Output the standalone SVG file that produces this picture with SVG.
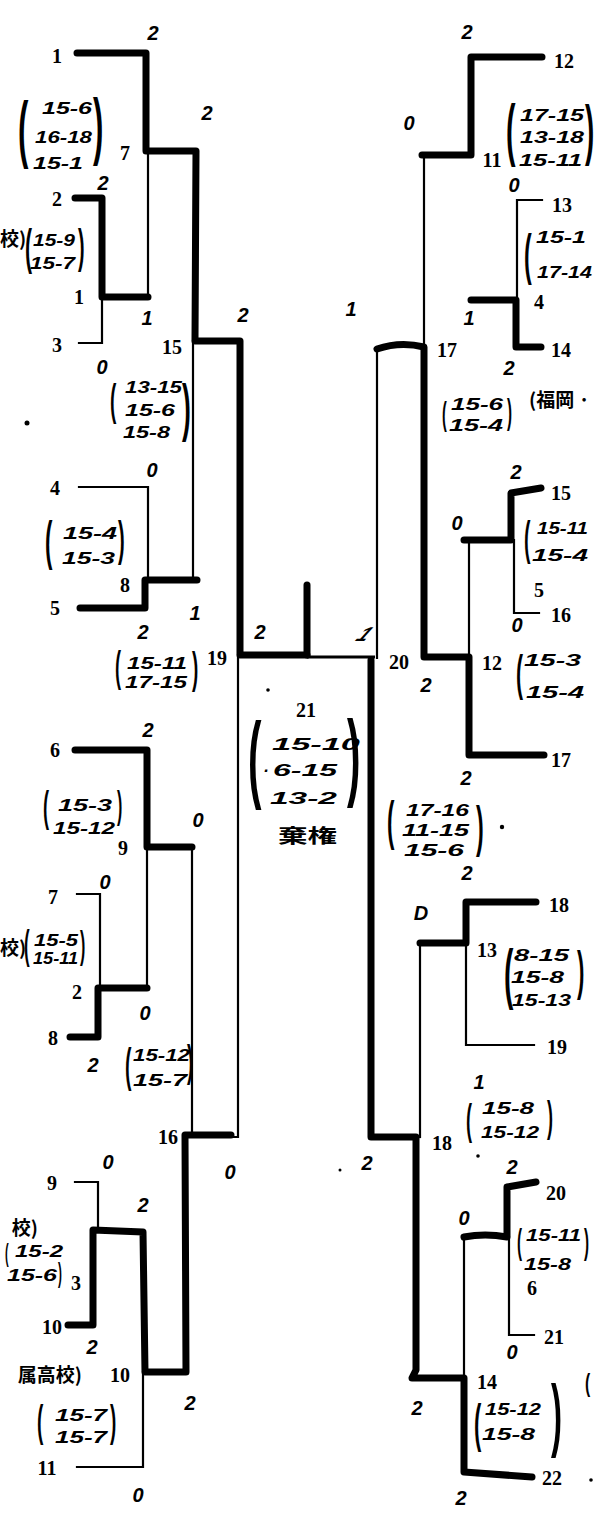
<svg xmlns="http://www.w3.org/2000/svg" width="594" height="1524" viewBox="0 0 594 1524">
<style>
.lbl{font-family:"Liberation Serif","Noto Sans CJK JP",serif;font-weight:700;font-size:20px;text-anchor:middle;fill:#000}
.jp{font-family:"Noto Sans CJK JP","Liberation Sans",sans-serif;font-weight:700;font-size:19px;fill:#000}
.hw{font-family:"Liberation Sans",sans-serif;font-style:italic;font-weight:700;font-size:17px;fill:#000}
.sc{font-family:"Liberation Sans",sans-serif;font-style:italic;font-weight:700;font-size:20px;text-anchor:middle;fill:#000}
.par{font-family:"Liberation Sans",sans-serif;font-weight:700;fill:#000}
.thick{fill:none;stroke:#000;stroke-width:7;stroke-linecap:round;stroke-linejoin:round}
.thin{fill:none;stroke:#000;stroke-width:2.2;stroke-linecap:square;stroke-linejoin:miter}
.mid{fill:none;stroke:#000;stroke-width:3}
</style>
<rect width="594" height="1524" fill="#fff"/>

<g id="connectors">
  <!-- left thick -->
  <path class="thick" d="M77,53 H146 V151 H196 L195,341 H240 V655 H307"/>
  <path class="thick" d="M307,655 V585"/>
  <path class="thick" d="M75,198 H102 V297 H148"/>
  <path class="thick" d="M80,608 H145 V580 H197"/>
  <path class="thick" d="M75,750 H147 V847 H192"/>
  <path class="thick" d="M70,1037 H98 V988 H147"/>
  <path class="thick" d="M68,1325 H93 V1230 L143,1232 L145,1372 H186 L185,1135 H231"/>
  <!-- left thin -->
  <path class="thin" d="M148,152 V297"/>
  <path class="thin" d="M79,343 H102 V297"/>
  <path class="thin" d="M79,487 H148 V580"/>
  <path class="thin" d="M193,580 V341"/>
  <path class="thin" d="M77,894 H100 V988"/>
  <path class="thin" d="M147,988 V847"/>
  <path class="thin" d="M192,847 V1135"/>
  <path class="thin" d="M75,1182 H98 V1230"/>
  <path class="thin" d="M77,1467 H143 V1372"/>
  <path class="thin" d="M231,1137 H238 V655"/>
  <!-- final -->
  <path class="mid" d="M307,657 H375"/>
  <!-- right thick -->
  <path class="thick" d="M542,57 H471 V155 H422"/>
  <path class="thick" d="M541,347 H516 V300 H471"/>
  <path class="thick" d="M541,488 L511,493 V540 H464"/>
  <path class="thick" d="M544,755 H469 V657 H424 V347 Q400,341 377,349"/>
  <path class="thick" d="M536,902 H466 V943 H420"/>
  <path class="thick" d="M536,1182 L507,1187 V1237 Q485,1233 464,1237"/>
  <path class="thick" d="M532,1477 L464,1472 V1378 H412 L416,1370 V1137 H371 V660"/>
  <!-- right thin -->
  <path class="thin" d="M424,155 V347"/>
  <path class="thin" d="M542,200 H517 V300"/>
  <path class="thin" d="M539,613 H514 V540"/>
  <path class="thin" d="M469,540 V657"/>
  <path class="thin" d="M377,347 V658"/>
  <path class="thin" d="M534,1045 H466 V943"/>
  <path class="thin" d="M420,943 V1137"/>
  <path class="thin" d="M534,1335 H509 V1237"/>
  <path class="thin" d="M464,1237 V1378"/>
</g>

<!-- left teams -->
<g id="team-1"><text class="lbl" x="57" y="63">1</text></g>
<g id="team-2"><text class="lbl" x="57" y="206">2</text></g>
<g id="team-3"><text class="lbl" x="57" y="352">3</text></g>
<g id="team-4"><text class="lbl" x="55" y="495">4</text></g>
<g id="team-5"><text class="lbl" x="55" y="615">5</text></g>
<g id="team-6"><text class="lbl" x="55" y="757">6</text></g>
<g id="team-7"><text class="lbl" x="53" y="904">7</text></g>
<g id="team-8"><text class="lbl" x="53" y="1045">8</text></g>
<g id="team-9"><text class="lbl" x="52" y="1190">9</text></g>
<g id="team-10"><text class="lbl" x="52" y="1334">10</text></g>
<g id="team-11"><text class="lbl" x="47" y="1475">11</text></g>

<!-- right teams -->
<g id="team-12"><text class="lbl" x="564" y="68">12</text></g>
<g id="team-13"><text class="lbl" x="562" y="212">13</text></g>
<g id="team-14"><text class="lbl" x="561" y="357">14</text></g>
<g id="team-15"><text class="lbl" x="561" y="500">15</text></g>
<g id="team-16"><text class="lbl" x="561" y="622">16</text></g>
<g id="team-17"><text class="lbl" x="561" y="767">17</text></g>
<g id="team-18"><text class="lbl" x="559" y="912">18</text></g>
<g id="team-19"><text class="lbl" x="557" y="1054">19</text></g>
<g id="team-20"><text class="lbl" x="556" y="1200">20</text></g>
<g id="team-21"><text class="lbl" x="554" y="1344">21</text></g>
<g id="team-22"><text class="lbl" x="552" y="1485">22</text></g>

<!-- left matches -->
<g id="match-7">
  <text class="lbl" x="125" y="160">7</text>
  <text class="sc" x="153" y="40">2</text>
  <text class="par" font-size="74" transform="translate(18,154) scale(0.42,1)">(</text>
  <text class="hw" x="42" y="114" textLength="50" lengthAdjust="spacingAndGlyphs">15-6</text>
  <text class="hw" x="35" y="143" textLength="57" lengthAdjust="spacingAndGlyphs">16-18</text>
  <text class="hw" x="33" y="169" textLength="50" lengthAdjust="spacingAndGlyphs">15-1</text>
  <text class="par" font-size="74" transform="translate(93,151) scale(0.42,1)">)</text>
</g>
<g id="match-1">
  <text class="lbl" x="79" y="304">1</text>
  <text class="sc" x="103" y="190">2</text>
  <text class="sc" x="147" y="325">1</text>
  <text class="sc" x="102" y="374">0</text>
  <text class="jp" x="0" y="246" font-size="15">校)</text>
  <text class="par" font-size="50" transform="translate(25,264) scale(0.42,1)">(</text>
  <text class="hw" x="33" y="246" textLength="42" lengthAdjust="spacingAndGlyphs">15-9</text>
  <text class="hw" x="30" y="269" textLength="45" lengthAdjust="spacingAndGlyphs">15-7</text>
  <text class="par" font-size="47" transform="translate(78,262) scale(0.42,1)">)</text>
</g>
<g id="match-15">
  <text class="lbl" x="172" y="354">15</text>
  <text class="sc" x="207" y="120">2</text>
  <text class="sc" x="243" y="322">2</text>
  <text class="sc" x="152" y="477">0</text>
  <text class="par" font-size="45" transform="translate(110,415) scale(0.42,1)">(</text>
  <text class="hw" x="125" y="393" textLength="57" lengthAdjust="spacingAndGlyphs">13-15</text>
  <text class="hw" x="125" y="416" textLength="50" lengthAdjust="spacingAndGlyphs">15-6</text>
  <text class="hw" x="123" y="438" textLength="47" lengthAdjust="spacingAndGlyphs">15-8</text>
  <text class="par" font-size="63" transform="translate(182,429) scale(0.42,1)">)</text>
</g>
<g id="match-8">
  <text class="lbl" x="125" y="592">8</text>
  <text class="sc" x="143" y="639">2</text>
  <text class="sc" x="195" y="620">1</text>
  <text class="par" font-size="53" transform="translate(45,559) scale(0.42,1)">(</text>
  <text class="hw" x="63" y="539" textLength="54" lengthAdjust="spacingAndGlyphs">15-4</text>
  <text class="hw" x="62" y="564" textLength="53" lengthAdjust="spacingAndGlyphs">15-3</text>
  <text class="par" font-size="48" transform="translate(118,555) scale(0.42,1)">)</text>
</g>
<g id="match-19">
  <text class="lbl" x="217" y="665">19</text>
  <text class="sc" x="260" y="639">2</text>
  <text class="par" font-size="43" transform="translate(115,681) scale(0.42,1)">(</text>
  <text class="hw" x="127" y="669" textLength="60" lengthAdjust="spacingAndGlyphs">15-11</text>
  <text class="hw" x="125" y="688" textLength="62" lengthAdjust="spacingAndGlyphs">17-15</text>
  <text class="par" font-size="45" transform="translate(192,683) scale(0.42,1)">)</text>
</g>
<g id="match-9">
  <text class="lbl" x="123" y="855">9</text>
  <text class="sc" x="148" y="737">2</text>
  <text class="sc" x="198" y="827">0</text>
  <text class="par" font-size="43" transform="translate(43,821) scale(0.42,1)">(</text>
  <text class="hw" x="58" y="811" textLength="54" lengthAdjust="spacingAndGlyphs">15-3</text>
  <text class="hw" x="53" y="834" textLength="62" lengthAdjust="spacingAndGlyphs">15-12</text>
  <text class="par" font-size="38" transform="translate(117,818) scale(0.42,1)">)</text>
</g>
<g id="match-2">
  <text class="lbl" x="77" y="999">2</text>
  <text class="sc" x="105" y="889">0</text>
  <text class="sc" x="93" y="1072">2</text>
  <text class="jp" x="0" y="955" font-size="13">校)</text>
  <text class="par" font-size="40" transform="translate(24,959) scale(0.42,1)">(</text>
  <text class="hw" x="34" y="946" font-size="16" textLength="44" lengthAdjust="spacingAndGlyphs">15-5</text>
  <text class="hw" x="33" y="964" font-size="16" textLength="45" lengthAdjust="spacingAndGlyphs">15-11</text>
  <text class="par" font-size="38" transform="translate(80,958) scale(0.42,1)">)</text>
</g>
<g id="match-16">
  <text class="lbl" x="168" y="1144">16</text>
  <text class="sc" x="145" y="1020">0</text>
  <text class="sc" x="230" y="1179">0</text>
  <text class="par" font-size="46" transform="translate(125,1081) scale(0.42,1)">(</text>
  <text class="hw" x="133" y="1061" textLength="57" lengthAdjust="spacingAndGlyphs">15-12</text>
  <text class="hw" x="133" y="1086" textLength="54" lengthAdjust="spacingAndGlyphs">15-7</text>
  <text class="par" font-size="45" transform="translate(187,1076) scale(0.42,1)">)</text>
</g>
<g id="match-3">
  <text class="lbl" x="76" y="1290">3</text>
  <text class="sc" x="108" y="1169">0</text>
  <text class="sc" x="143" y="1212">2</text>
  <text class="sc" x="92" y="1354">2</text>
  <text class="jp" x="38" y="1235" text-anchor="end" font-size="19">校)</text>
  <text class="par" font-size="26" transform="translate(5,1262) scale(0.42,1)">(</text>
  <text class="hw" x="15" y="1257" textLength="48" lengthAdjust="spacingAndGlyphs">15-2</text>
  <text class="hw" x="7" y="1281" textLength="50" lengthAdjust="spacingAndGlyphs">15-6</text>
  <text class="par" font-size="28" transform="translate(58,1282) scale(0.42,1)">)</text>
</g>
<g id="match-10">
  <text class="lbl" x="120" y="1382">10</text>
  <text class="sc" x="190" y="1410">2</text>
  <text class="sc" x="138" y="1502">0</text>
  <text class="jp" x="82" y="1382" text-anchor="end" font-size="19">属高校)</text>
  <text class="par" font-size="45" transform="translate(37,1436) scale(0.42,1)">(</text>
  <text class="hw" x="55" y="1421" textLength="52" lengthAdjust="spacingAndGlyphs">15-7</text>
  <text class="hw" x="55" y="1443" textLength="52" lengthAdjust="spacingAndGlyphs">15-7</text>
  <text class="par" font-size="45" transform="translate(110,1436) scale(0.42,1)">)</text>
</g>

<!-- final -->
<g id="match-21">
  <text class="lbl" x="306" y="717">21</text>
  <text class="sc" x="351" y="316" font-size="34">1</text>
  <text class="sc" font-size="30" transform="translate(360,641) skewX(-35)">1</text>
  <text class="par" font-size="96" transform="translate(248,790) scale(0.42,1)">(</text>
  <text class="hw" x="272" y="750" font-size="20" textLength="88" lengthAdjust="spacingAndGlyphs">15-10</text>
  <text class="hw" x="263" y="776" font-size="20">·</text>
  <text class="hw" x="273" y="776" font-size="20" textLength="64" lengthAdjust="spacingAndGlyphs">6-15</text>
  <text class="hw" x="270" y="804" font-size="20" textLength="67" lengthAdjust="spacingAndGlyphs">13-2</text>
  <text class="par" font-size="96" transform="translate(347,788) scale(0.42,1)">)</text>
  <text class="jp" x="278" y="843" font-size="28" textLength="59" lengthAdjust="spacingAndGlyphs">棄権</text>
</g>

<!-- right matches -->
<g id="match-11">
  <text class="lbl" x="492" y="167">11</text>
  <text class="sc" x="467" y="39">2</text>
  <text class="sc" x="409" y="130">0</text>
  <text class="par" font-size="68" transform="translate(506,153) scale(0.42,1)">(</text>
  <text class="hw" x="520" y="121" textLength="64" lengthAdjust="spacingAndGlyphs">17-15</text>
  <text class="hw" x="520" y="143" textLength="64" lengthAdjust="spacingAndGlyphs">13-18</text>
  <text class="hw" x="519" y="166" textLength="63" lengthAdjust="spacingAndGlyphs">15-11</text>
  <text class="par" font-size="66" transform="translate(585,152) scale(0.42,1)">)</text>
</g>
<g id="match-4">
  <text class="lbl" x="539" y="309">4</text>
  <text class="sc" x="514" y="192">0</text>
  <text class="sc" x="469" y="325">1</text>
  <text class="sc" x="509" y="375">2</text>
  <text class="par" font-size="55" transform="translate(524,273) scale(0.42,1)">(</text>
  <text class="hw" x="536" y="243" textLength="50" lengthAdjust="spacingAndGlyphs">15-1</text>
  <text class="hw" x="537" y="278" textLength="55" lengthAdjust="spacingAndGlyphs">17-14</text>
</g>
<g id="match-17">
  <text class="lbl" x="447" y="357">17</text>
  <text class="par" font-size="34" transform="translate(442,425) scale(0.42,1)">(</text>
  <text class="hw" x="451" y="410" font-size="15" textLength="52" lengthAdjust="spacingAndGlyphs">15-6</text>
  <text class="hw" x="449" y="431" font-size="15" textLength="54" lengthAdjust="spacingAndGlyphs">15-4</text>
  <text class="par" font-size="36" transform="translate(507,424) scale(0.42,1)">)</text>
  <text class="jp" x="529" y="407" font-size="19">(福岡 ·</text>
</g>
<g id="match-5">
  <text class="lbl" x="539" y="597">5</text>
  <text class="sc" x="516" y="479">2</text>
  <text class="sc" x="457" y="530">0</text>
  <text class="sc" x="517" y="632">0</text>
  <text class="par" font-size="46" transform="translate(524,554) scale(0.42,1)">(</text>
  <text class="hw" x="537" y="534" textLength="51" lengthAdjust="spacingAndGlyphs">15-11</text>
  <text class="hw" x="532" y="561" textLength="56" lengthAdjust="spacingAndGlyphs">15-4</text>
</g>
<g id="match-12">
  <text class="lbl" x="492" y="670">12</text>
  <text class="sc" x="466" y="785">2</text>
  <text class="par" font-size="50" transform="translate(516,690) scale(0.42,1)">(</text>
  <text class="hw" x="524" y="666" textLength="57" lengthAdjust="spacingAndGlyphs">15-3</text>
  <text class="hw" x="526" y="698" textLength="58" lengthAdjust="spacingAndGlyphs">15-4</text>
</g>
<g id="match-20">
  <text class="lbl" x="399" y="669">20</text>
  <text class="sc" x="426" y="692">2</text>
  <text class="sc" x="367" y="1170">2</text>
  <text class="par" font-size="53" transform="translate(387,839) scale(0.42,1)">(</text>
  <text class="hw" x="406" y="816" textLength="63" lengthAdjust="spacingAndGlyphs">17-16</text>
  <text class="hw" x="402" y="836" textLength="67" lengthAdjust="spacingAndGlyphs">11-15</text>
  <text class="hw" x="404" y="856" textLength="60" lengthAdjust="spacingAndGlyphs">15-6</text>
  <text class="par" font-size="55" transform="translate(476,845) scale(0.42,1)">)</text>
  <circle cx="502" cy="827" r="2.2" fill="#000"/>
</g>
<g id="match-13">
  <text class="lbl" x="487" y="957">13</text>
  <text class="sc" x="467" y="880">2</text>
  <text class="sc" x="421" y="920">D</text>
  <text class="par" font-size="67" transform="translate(504,996) scale(0.42,1)">(</text>
  <text class="hw" x="514" y="961" textLength="55" lengthAdjust="spacingAndGlyphs">8-15</text>
  <text class="hw" x="511" y="983" textLength="53" lengthAdjust="spacingAndGlyphs">15-8</text>
  <text class="hw" x="512" y="1006" textLength="59" lengthAdjust="spacingAndGlyphs">15-13</text>
  <text class="par" font-size="53" transform="translate(577,989) scale(0.42,1)">)</text>
</g>
<g id="match-18">
  <text class="lbl" x="442" y="1150">18</text>
  <text class="sc" x="479" y="1089">1</text>
  <text class="par" font-size="43" transform="translate(466,1134) scale(0.42,1)">(</text>
  <text class="hw" x="482" y="1114" textLength="52" lengthAdjust="spacingAndGlyphs">15-8</text>
  <text class="hw" x="481" y="1138" textLength="58" lengthAdjust="spacingAndGlyphs">15-12</text>
  <text class="par" font-size="43" transform="translate(547,1131) scale(0.42,1)">)</text>
</g>
<g id="match-6">
  <text class="lbl" x="532" y="1295">6</text>
  <text class="sc" x="512" y="1174">2</text>
  <text class="sc" x="464" y="1225">0</text>
  <text class="sc" x="512" y="1359">0</text>
  <text class="par" font-size="36" transform="translate(517,1254) scale(0.42,1)">(</text>
  <text class="hw" x="526" y="1241" textLength="55" lengthAdjust="spacingAndGlyphs">15-11</text>
  <text class="hw" x="524" y="1270" textLength="47" lengthAdjust="spacingAndGlyphs">15-8</text>
  <text class="par" font-size="36" transform="translate(584,1254) scale(0.42,1)">)</text>
</g>
<g id="match-14">
  <text class="lbl" x="487" y="1389">14</text>
  <text class="sc" x="417" y="1415">2</text>
  <text class="sc" x="461" y="1505">2</text>
  <text class="par" font-size="52" transform="translate(474,1441) scale(0.42,1)">(</text>
  <text class="hw" x="485" y="1415" textLength="56" lengthAdjust="spacingAndGlyphs">15-12</text>
  <text class="hw" x="482" y="1440" textLength="53" lengthAdjust="spacingAndGlyphs">15-8</text>
  <text class="par" font-size="79" transform="translate(551,1441) scale(0.42,1)">)</text>
  <text class="par" font-size="26" transform="translate(585,1392) scale(0.6,1)">(</text>
</g>

<g id="specks" fill="#000">
  <circle cx="27" cy="423" r="2.5"/>
  <circle cx="591" cy="1480" r="1.8"/>
  <circle cx="268" cy="690" r="1.8"/>
  <circle cx="478" cy="1156" r="1.8"/>
  <circle cx="340" cy="1170" r="1.5"/>
</g>
</svg>
